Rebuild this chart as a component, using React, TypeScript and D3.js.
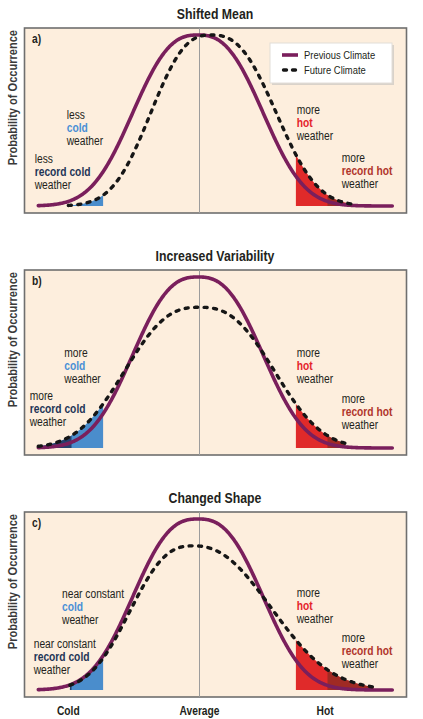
import React from "react";
import * as d3 from "d3";

// ---- data ----
const panelTitles = ["Shifted Mean", "Increased Variability", "Changed Shape"];
const panelLetters = ["a)", "b)", "c)"];

// Previous climate distribution (same in every panel), x in "temperature" units
const prevMean = -0.02;
const prevAmp = 1.0;
const prevWidth = 1.0;
const prevPower = 2.6;
const prevRange = [-2.04, 2.44];

// Future climate distribution per panel
const futMeans = [0.146, 0.0, -0.078];
const futAmps = [1.0, 0.823, 0.843];
const futWidthsLeft = [0.924, 1.152, 0.975];
const futWidthsRight = [1.0, 1.152, 1.266];
const futPowersLeft = [2.6, 2.6, 2.6];
const futPowersRight = [2.6, 2.6, 2.3];
const futRangeStart = [-1.66, -2.04, -1.64];
const futRangeEnd = [1.99, 1.84, 2.2];

// Thresholds for shaded tails
const coldThreshold = -1.22;
const recordColdThreshold = -1.62;
const hotThreshold = 1.22;
const recordHotThreshold = 1.62;

// Bottom axis
const axisTickValues = [-1.66, 0, 1.59];
const axisTickLabels = ["Cold", "Average", "Hot"];

// Annotation qualifiers per panel
const coldQualifiers = ["less", "more", "near constant"];
const recordColdQualifiers = ["less", "more", "near constant"];
const hotQualifiers = ["more", "more", "more"];
const recordHotQualifiers = ["more", "more", "more"];

const legendLabels = ["Previous Climate", "Future Climate"];

// ---- styles ----
const W = 423;
const H = 719;
const FONT = "'Liberation Sans', Arial, sans-serif";
const SX = 0.82; // horizontal compression to mimic a narrow face
const BG = "#fdeedd";
const PURPLE = "#7a1f5c";
const DASH = "#161616";
const BLUE = "#4a8dcc";
const DARKBLUE = "#24406e";
const RED = "#e02a2a";
const DARKRED = "#a02a24";
const TEXT = "#231f20";
const COLDTXT = "#4a90d6";
const HOTTXT = "#e4232b";
const RECCOLDTXT = "#1f3557";
const RECHOTTXT = "#b0352b";

const panelTops = [28, 270, 512];
const panelH = 185;
const boxLeft = 24.5;
const boxRight = 406.5;

const xScale = d3.scaleLinear().domain([-2.215, 2.62]).range([boxLeft, boxRight]);

function density(x: number, mu: number, amp: number, sL: number, sR: number, pL: number, pR: number) {
  const s = x < mu ? sL : sR;
  const p = x < mu ? pL : pR;
  return amp * Math.exp(-Math.pow(Math.abs(x - mu) / s, p));
}

function sample(a: number, b: number, step = 0.01) {
  const xs = d3.range(a, b, step);
  xs.push(b);
  return xs;
}

type NTProps = {
  x: number;
  y: number;
  size: number;
  weight?: string;
  fill?: string;
  anchor?: string;
  rotate?: number;
  children: React.ReactNode;
};

function NText({ x, y, size, weight = "normal", fill = TEXT, anchor = "start", rotate = 0, children }: NTProps) {
  return (
    <text
      transform={`translate(${x},${y})${rotate ? ` rotate(${rotate})` : ""} scale(${SX},1)`}
      fontFamily={FONT}
      fontSize={size}
      fontWeight={weight}
      fill={fill}
      textAnchor={anchor}
    >
      {children}
    </text>
  );
}

function Panel({ i }: { i: number }) {
  const top = panelTops[i];
  const yScale = d3.scaleLinear().domain([0, 1]).range([top + 178, top + 7]);
  const prev = (x: number) => density(x, prevMean, prevAmp, prevWidth, prevWidth, prevPower, prevPower);
  const fut = (x: number) =>
    density(x, futMeans[i], futAmps[i], futWidthsLeft[i], futWidthsRight[i], futPowersLeft[i], futPowersRight[i]);

  const prevPath = d3
    .line<number>()
    .x((d) => xScale(d))
    .y((d) => yScale(prev(d)))(sample(prevRange[0], prevRange[1]));
  const futPath = d3
    .line<number>()
    .x((d) => xScale(d))
    .y((d) => yScale(fut(d)))(sample(futRangeStart[i], futRangeEnd[i]));

  const area = d3
    .area<number>()
    .x((d) => xScale(d))
    .y0(yScale(0))
    .y1((d) => yScale(fut(d)));

  const blueArea = area(sample(futRangeStart[i], coldThreshold));
  const darkBlueArea = area(sample(futRangeStart[i], Math.max(futRangeStart[i], recordColdThreshold)));
  const redArea = area(sample(hotThreshold, futRangeEnd[i]));
  const darkRedArea = area(sample(recordHotThreshold, futRangeEnd[i]));

  const annot = [
    { x: [66.7, 64.3, 62][i], y: [91, 87.3, 86.3][i], q: coldQualifiers[i], key: "cold", color: COLDTXT },
    { x: [34.7, 29.7, 33.7][i], y: [135.3, 130, 136.3][i], q: recordColdQualifiers[i], key: "record cold", color: RECCOLDTXT },
    { x: [296.7, 296.7, 296.7][i], y: [86, 87.3, 84.7][i], q: hotQualifiers[i], key: "hot", color: HOTTXT },
    { x: [341.7, 341.7, 341.7][i], y: [134.3, 133.3, 130.3][i], q: recordHotQualifiers[i], key: "record hot", color: RECHOTTXT },
  ];
  const lh = 12.9;

  return (
    <g>
      <NText x={215} y={top - 9} size={15} weight="bold" anchor="middle">
        {panelTitles[i]}
      </NText>
      <NText x={16.5} y={top + 2} size={13.5} weight="bold" fill="#3a3a3a" anchor="end" rotate={-90}>
        Probability of Occurrence
      </NText>
      <rect x={boxLeft} y={top} width={boxRight - boxLeft} height={panelH} fill={BG} stroke="#6f6f6f" strokeWidth={1.6} />
      <line x1={xScale(0)} x2={xScale(0)} y1={top} y2={top + panelH} stroke="#9c9c9c" strokeWidth={1} />
      <path d={blueArea || ""} fill={BLUE} />
      <path d={darkBlueArea || ""} fill={DARKBLUE} />
      <path d={redArea || ""} fill={RED} />
      <path d={darkRedArea || ""} fill={DARKRED} />
      <path d={prevPath || ""} fill="none" stroke={PURPLE} strokeWidth={3.6} strokeLinecap="round" />
      <path
        d={futPath || ""}
        fill="none"
        stroke={DASH}
        strokeWidth={3.4}
        strokeDasharray="3 6.5"
        strokeLinecap="round"
      />
      <NText x={32} y={top + 15} size={12.5} weight="bold">
        {panelLetters[i]}
      </NText>
      {annot.map((a, k) => (
        <g key={k}>
          <NText x={a.x} y={top + a.y} size={12.5}>
            {a.q}
          </NText>
          <NText x={a.x} y={top + a.y + lh} size={12.5} weight="bold" fill={a.color}>
            {a.key}
          </NText>
          <NText x={a.x} y={top + a.y + 2 * lh} size={12.5}>
            weather
          </NText>
        </g>
      ))}
      {i === 0 && (
        <g>
          <rect x={272} y={45} width={122} height={40} fill="#d9d2ca" />
          <rect x={270} y={43} width={122} height={40} fill="#ffffff" stroke="#e2ddd8" strokeWidth={1} />
          <line x1={282} x2={298} y1={55} y2={55} stroke={PURPLE} strokeWidth={3.6} />
          <line x1={283.5} x2={298} y1={70} y2={70} stroke={DASH} strokeWidth={3.4} strokeDasharray="3 6" strokeLinecap="round" />
          <NText x={304} y={58.8} size={11.5}>
            {legendLabels[0]}
          </NText>
          <NText x={304} y={73.8} size={11.5}>
            {legendLabels[1]}
          </NText>
        </g>
      )}
    </g>
  );
}

export default function App() {
  return (
    <svg
      width={W}
      height={H}
      viewBox={`0 0 ${W} ${H}`}
      style={{ position: "absolute", left: 0, top: 0, display: "block", background: "#ffffff" }}
    >
      <rect x={0} y={0} width={W} height={H} fill="#ffffff" />
      {[0, 1, 2].map((i) => (
        <Panel key={i} i={i} />
      ))}
      {axisTickValues.map((v, k) => (
        <NText key={k} x={xScale(v)} y={715} size={12.5} weight="bold" anchor="middle">
          {axisTickLabels[k]}
        </NText>
      ))}
    </svg>
  );
}
